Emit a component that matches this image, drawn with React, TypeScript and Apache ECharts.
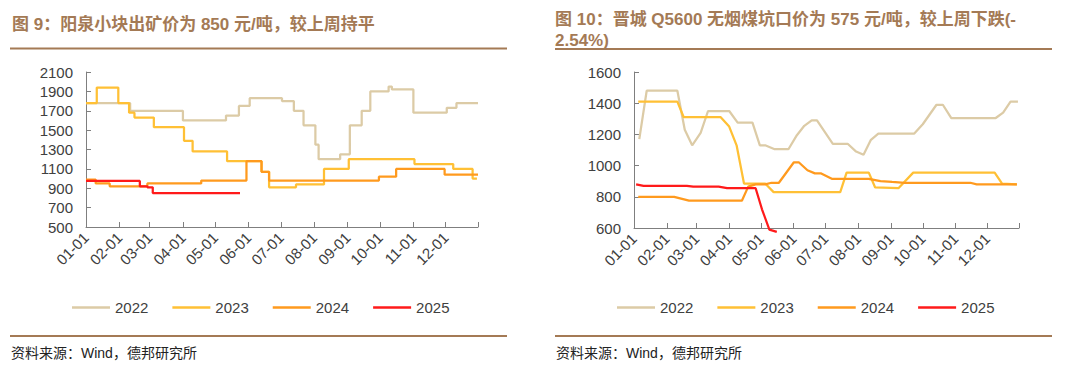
import React, { useEffect, useRef } from "react";
import * as echarts from "echarts";

// ---------- categories (day of a non-leap year, MM-DD) ----------
const monthLengths = [31, 28, 31, 30, 31, 30, 31, 31, 30, 31, 30, 31];
const pad = (n: number) => (n < 10 ? "0" + n : "" + n);
const days: string[] = [];
monthLengths.forEach((len, m) => {
  for (let d = 1; d <= len; d++) days.push(`${pad(m + 1)}-${pad(d)}`);
});

const seriesNames = ["2022", "2023", "2024", "2025"];
const colors = ["#DCCBA6", "#FFC035", "#FF9A1E", "#FF1A1A"];

// ---------- Left chart: 阳泉小块出矿价 (元/吨) ----------
const leftYTicks = [500, 700, 900, 1100, 1300, 1500, 1700, 1900, 2100];

const leftDates2022 = ["01-01", "02-11", "04-01", "05-11", "05-23", "06-02", "07-02", "07-13", "07-22", "08-02", "08-05", "08-25", "09-03", "09-14", "09-22", "10-09", "10-12", "11-01", "12-02", "12-11", "12-31"];
const leftVals2022 = [1780, 1700, 1600, 1650, 1750, 1830, 1800, 1700, 1550, 1350, 1200, 1250, 1550, 1700, 1900, 1950, 1920, 1680, 1730, 1780, 1780];

const leftDates2023 = ["01-01", "01-11", "01-31", "02-10", "02-15", "03-05", "04-02", "04-10", "05-12", "06-13", "06-20", "07-15", "08-10", "09-02", "11-02", "12-08", "12-26", "12-30"];
const leftVals2023 = [1780, 1940, 1780, 1680, 1630, 1530, 1390, 1280, 1180, 1070, 910, 940, 1100, 1200, 1150, 1100, 1000, 1000];

const leftDates2024 = ["01-01", "01-10", "01-23", "02-27", "04-18", "05-30", "06-13", "06-20", "09-30", "10-16", "11-30", "12-31"];
const leftVals2024 = [990, 950, 920, 950, 980, 1180, 1070, 980, 1020, 1100, 1040, 1040];

const leftDates2025 = ["01-01", "02-20", "02-27", "03-04", "05-24"];
const leftVals2025 = [975, 920, 910, 850, 850];

// ---------- Right chart: 晋城 Q5600 无烟煤坑口价 (元/吨) ----------
const rightYMin = 600;
const rightYMax = 1600;
const rightYInterval = 200;

const rightDates2022 = ["01-06", "01-13", "02-11", "02-18", "02-25", "03-05", "03-12", "04-01", "04-09", "04-23", "04-30", "05-05", "05-14", "05-27", "06-04", "06-11", "06-18", "06-23", "07-08", "07-22", "07-30", "08-06", "08-13", "08-20", "09-23", "10-01", "10-14", "10-20", "10-28", "12-09", "12-16", "12-23", "12-30"];
const rightVals2022 = [1170, 1480, 1480, 1230, 1130, 1210, 1350, 1350, 1275, 1275, 1130, 1130, 1105, 1105, 1195, 1255, 1290, 1290, 1140, 1140, 1090, 1070, 1165, 1205, 1205, 1265, 1390, 1390, 1305, 1305, 1340, 1410, 1410];

const rightDates2023 = ["01-05", "02-11", "02-17", "03-24", "04-01", "04-08", "04-15", "05-05", "05-13", "07-15", "07-21", "08-11", "08-17", "09-08", "09-22", "12-08", "12-15", "12-29"];
const rightVals2023 = [1410, 1410, 1310, 1310, 1250, 1130, 885, 885, 830, 830, 955, 955, 860, 855, 955, 955, 885, 880];

const rightDates2024 = ["01-05", "02-08", "02-22", "04-13", "04-19", "04-26", "05-05", "05-11", "05-18", "06-01", "06-06", "06-14", "06-21", "06-27", "07-07", "08-11", "08-22", "09-02", "09-14", "11-15", "11-21", "12-29"];
const rightVals2024 = [800, 800, 775, 775, 865, 880, 880, 890, 890, 1020, 1020, 970, 950, 950, 915, 915, 900, 895, 890, 890, 880, 880];

const rightDates2025 = ["01-03", "01-10", "02-20", "02-26", "03-22", "03-30", "04-26", "05-02", "05-09", "05-16"];
const rightVals2025 = [880, 870, 870, 865, 865, 855, 855, 720, 590, 575];

const zip = (d: string[], v: number[]) => d.map((x, i) => [x, v[i]]);

const FONT = '"Liberation Sans", Arial, "Noto Sans CJK SC", sans-serif';
const BROWN = "#A47A55";
const AXIS = "#7F7F7F";
const LABEL = "#404040";

export default function App() {
  const ref = useRef<HTMLDivElement>(null);

  useEffect(() => {
    if (!ref.current) return;
    const chart = echarts.init(ref.current, undefined, { renderer: "svg" });

    const xAxisFor = (gridIndex: number) => ({
      type: "category",
      gridIndex,
      data: days,
      boundaryGap: false,
      axisLine: { show: true, lineStyle: { color: AXIS, width: 1 } },
      axisTick: {
        show: true,
        inside: true,
        length: 5,
        interval: (i: number, v: string) => v.endsWith("-01") || i === days.length - 1,
        lineStyle: { color: AXIS },
      },
      axisLabel: {
        interval: (_i: number, v: string) => v.endsWith("-01"),
        rotate: 45,
        fontSize: 15,
        color: LABEL,
        fontFamily: FONT,
        margin: 8,
      },
      splitLine: { show: false },
    });

    const leftData = [
      zip(leftDates2022, leftVals2022),
      zip(leftDates2023, leftVals2023),
      zip(leftDates2024, leftVals2024),
      zip(leftDates2025, leftVals2025),
    ];
    const rightData = [
      zip(rightDates2022, rightVals2022),
      zip(rightDates2023, rightVals2023),
      zip(rightDates2024, rightVals2024),
      zip(rightDates2025, rightVals2025),
    ];

    const series: any[] = [];
    seriesNames.forEach((name, i) => {
      series.push({
        name,
        type: "line",
        xAxisIndex: 0,
        yAxisIndex: 0,
        data: leftData[i],
        step: "end",
        symbol: "none",
        lineStyle: { color: colors[i], width: 2.25 },
        itemStyle: { color: colors[i] },
        z: 2 + i,
      });
    });
    seriesNames.forEach((name, i) => {
      series.push({
        name,
        type: "line",
        xAxisIndex: 1,
        yAxisIndex: 1,
        data: rightData[i],
        symbol: "none",
        clip: i !== 3,
        lineStyle: { color: colors[i], width: 2.25 },
        itemStyle: { color: colors[i] },
        z: 2 + i,
      });
    });

    const legendFor = (left: number) => ({
      left,
      top: 300,
      padding: 0,
      orient: "horizontal",
      data: seriesNames,
      icon: "rect",
      itemWidth: 38,
      itemHeight: 2.5,
      itemGap: 24,
      selectedMode: false,
      textStyle: { fontSize: 15, color: LABEL, fontFamily: FONT },
    });

    const yAxisCommon = {
      type: "value",
      axisLine: { show: true, lineStyle: { color: AXIS, width: 1 } },
      splitLine: { show: false },
    };
    const plain = (v: number) => String(v);

    chart.setOption({
      animation: false,
      backgroundColor: "#FFFFFF",
      grid: [
        { left: 86, top: 72, width: 392, height: 155, containLabel: false },
        { left: 634, top: 72, width: 385, height: 156, containLabel: false },
      ],
      xAxis: [xAxisFor(0), xAxisFor(1)],
      yAxis: [
        {
          ...yAxisCommon,
          gridIndex: 0,
          min: leftYTicks[0],
          max: leftYTicks[leftYTicks.length - 1],
          axisTick: { show: true, inside: true, length: 5, customValues: leftYTicks, lineStyle: { color: AXIS } },
          axisLabel: { customValues: leftYTicks, formatter: plain, fontSize: 15, color: LABEL, fontFamily: FONT, margin: 13 },
        },
        {
          ...yAxisCommon,
          gridIndex: 1,
          min: rightYMin,
          max: rightYMax,
          interval: rightYInterval,
          axisTick: { show: true, inside: true, length: 5, lineStyle: { color: AXIS } },
          axisLabel: { formatter: plain, fontSize: 15, color: LABEL, fontFamily: FONT, margin: 13 },
        },
      ],
      legend: [legendFor(72), legendFor(617)],
      series,
      graphic: [
        {
          type: "text",
          left: 12,
          top: 16,
          style: { text: "图 9：阳泉小块出矿价为 850 元/吨，较上周持平", fill: BROWN, font: `bold 17px ${FONT}` },
        },
        {
          type: "text",
          left: 555,
          top: 11,
          style: { text: "图 10：晋城 Q5600 无烟煤坑口价为 575 元/吨，较上周下跌(-", fill: BROWN, font: `bold 17px ${FONT}` },
        },
        {
          type: "text",
          left: 555,
          top: 32,
          style: { text: "2.54%)", fill: BROWN, font: `bold 17px ${FONT}` },
        },
        { type: "line", shape: { x1: 10, y1: 48.5, x2: 507, y2: 48.5 }, style: { stroke: BROWN, lineWidth: 2 } },
        { type: "line", shape: { x1: 555, y1: 49, x2: 1052, y2: 49 }, style: { stroke: BROWN, lineWidth: 2 } },
        { type: "line", shape: { x1: 10, y1: 336, x2: 507, y2: 336 }, style: { stroke: BROWN, lineWidth: 2 } },
        { type: "line", shape: { x1: 555, y1: 336, x2: 1052, y2: 336 }, style: { stroke: BROWN, lineWidth: 2 } },
        {
          type: "text",
          left: 11,
          top: 346,
          style: { text: "资料来源：Wind，德邦研究所", fill: "#222222", font: `14px ${FONT}` },
        },
        {
          type: "text",
          left: 556,
          top: 346,
          style: { text: "资料来源：Wind，德邦研究所", fill: "#222222", font: `14px ${FONT}` },
        },
      ],
    });

    return () => chart.dispose();
  }, []);

  return (
    <div
      ref={ref}
      style={{ position: "absolute", left: 0, top: 0, width: 1080, height: 365, background: "#fff" }}
    />
  );
}
